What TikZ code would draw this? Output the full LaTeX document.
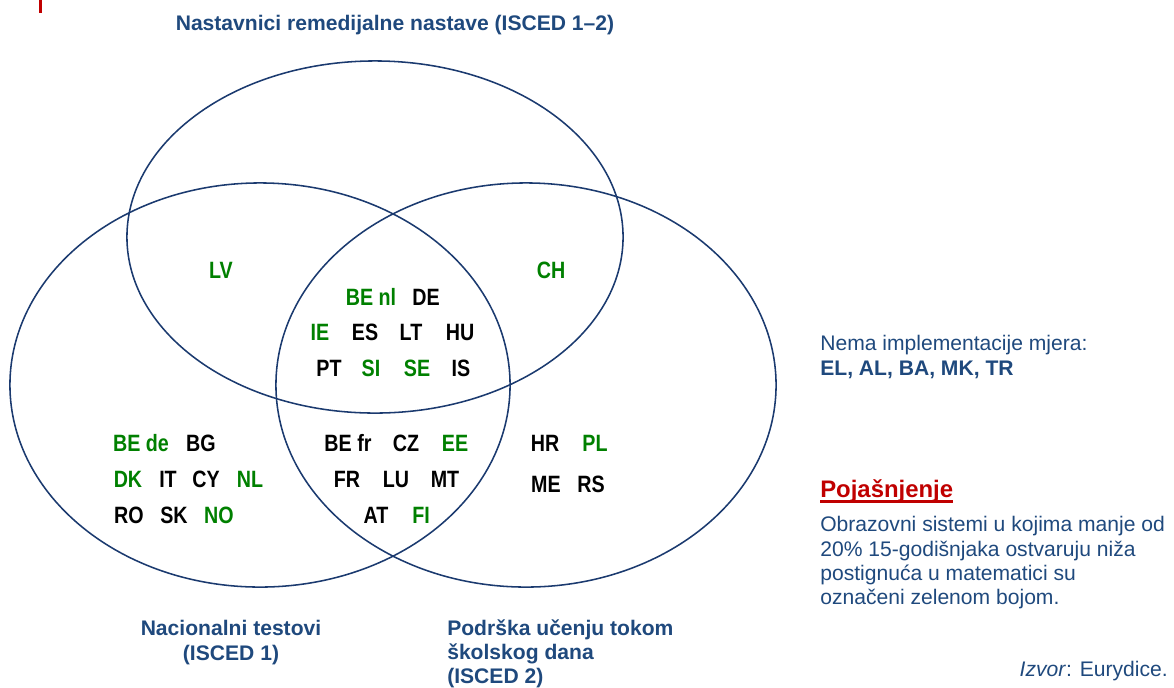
\documentclass[tikz,border=0pt]{standalone}
\usepackage{fontspec}
\setmainfont{Liberation Sans}
\usepackage{xcolor}
\definecolor{vennline}{HTML}{1B3A6F}
\definecolor{labelblue}{HTML}{1F497D}
\definecolor{lowgreen}{HTML}{008000}
\definecolor{legendred}{HTML}{C00000}
\newcommand{\tallcc}[1]{\scalebox{1}[1.2]{#1}}

\begin{document}
\begin{tikzpicture}[x=0.025cm, y=-0.025cm,
  venn/.style={draw=vennline, line width=1.1pt},
  cc/.style={inner sep=0pt, font=\fontsize{14}{17}\selectfont\bfseries},
  low/.style={cc, text=lowgreen},
  setlabel/.style={inner sep=0pt, text=labelblue, font=\fontsize{15}{17.4}\selectfont\bfseries},
  note/.style={inner sep=0pt, text=labelblue, font=\fontsize{15}{17.4}\selectfont, align=left}]
\useasboundingbox (0,0) rectangle (1174,687);
\fill[legendred] (39,0) rectangle (42,13);

% the three sets
\draw[venn] (375,237) ellipse [x radius=6.2cm, y radius=4.4cm];
\draw[venn] (260,385) ellipse [x radius=6.25cm, y radius=5.05cm];
\draw[venn] (526,385) ellipse [x radius=6.25cm, y radius=5.05cm];

\node[setlabel] (remedial) at (395,25) {Nastavnici remedijalne nastave (ISCED 1--2)};
\node[setlabel, align=center, anchor=north] (tests) at (231,620) {Nacionalni testovi\\(ISCED 1)};
\node[setlabel, align=left, anchor=north west] (support) at (447,619) {Podrška učenju tokom\\školskog dana\\(ISCED 2)};

% top only
\node[low] (lv) at (221,270) {\tallcc{LV}};
\node[low] (ch) at (551,270) {\tallcc{CH}};

% all three
\node[low] (benl) at (371,297) {\tallcc{BE nl}};
\node[cc] (de) at (426,297) {\tallcc{DE}};
\node[low] (ie) at (320,332) {\tallcc{IE}};
\node[cc] (es) at (365,332) {\tallcc{ES}};
\node[cc] (lt) at (411,332) {\tallcc{LT}};
\node[cc] (hu) at (460,332) {\tallcc{HU}};
\node[cc] (pt) at (329,368) {\tallcc{PT}};
\node[low] (si) at (371,368) {\tallcc{SI}};
\node[low] (se) at (417,368) {\tallcc{SE}};
\node[cc] (is) at (461,368) {\tallcc{IS}};

% left only
\node[low] (bede) at (141,443) {\tallcc{BE de}};
\node[cc] (bg) at (201,443) {\tallcc{BG}};
\node[low] (dk) at (128,479) {\tallcc{DK}};
\node[cc] (it) at (168,479) {\tallcc{IT}};
\node[cc] (cy) at (206,479) {\tallcc{CY}};
\node[low] (nl) at (250,479) {\tallcc{NL}};
\node[cc] (ro) at (129,515) {\tallcc{RO}};
\node[cc] (sk) at (174,515) {\tallcc{SK}};
\node[low] (no) at (219,515) {\tallcc{NO}};

% left and right
\node[cc] (befr) at (348,443) {\tallcc{BE fr}};
\node[cc] (cz) at (406,443) {\tallcc{CZ}};
\node[low] (ee) at (455,443) {\tallcc{EE}};
\node[cc] (fr) at (347,479) {\tallcc{FR}};
\node[cc] (lu) at (396,479) {\tallcc{LU}};
\node[cc] (mt) at (445,479) {\tallcc{MT}};
\node[cc] (at) at (376,515) {\tallcc{AT}};
\node[low] (fi) at (421,515) {\tallcc{FI}};

% right only
\node[cc] (hr) at (545,443) {\tallcc{HR}};
\node[low] (pl) at (595,443) {\tallcc{PL}};
\node[cc] (me) at (546,484) {\tallcc{ME}};
\node[cc] (rs) at (591,484) {\tallcc{RS}};

% legend
\node[note, anchor=north west] (none) at (820,335) {Nema implementacije mjera:\\\textbf{EL, AL, BA, MK, TR}};
\node[inner sep=0pt, anchor=base west, text=legendred, font=\fontsize{17}{20}\selectfont\bfseries] (pojas) at (820,497) {Pojašnjenje};
\draw[legendred, line width=1.8pt] ([yshift=-3pt]pojas.base west) -- ([yshift=-3pt]pojas.base east);
\node[note, anchor=north west] (explain) at (820,516) {Obrazovni sistemi u kojima manje od\\20\% 15-godišnjaka ostvaruju niža\\postignuća u matematici su\\označeni zelenom bojom.};
\node[note, anchor=base east] (source) at (1168,676) {\textit{Izvor}: Eurydice.};
\end{tikzpicture}
\end{document}
